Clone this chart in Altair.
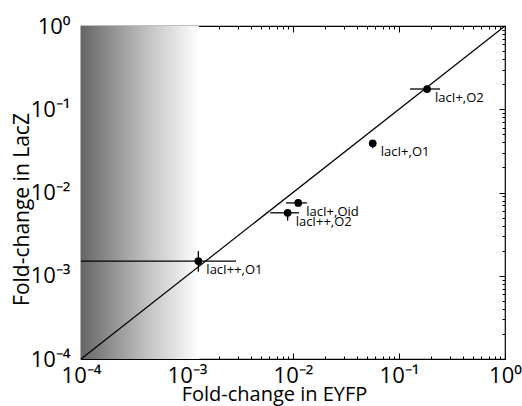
import math
import altair as alt
import pandas as pd

# ---- data ----
labels = ["lacI+,O2", "lacI+,O1", "lacI+,Oid", "lacI++,O2", "lacI++,O1"]
eyfp = [0.184, 0.0565, 0.0112, 0.0089, 0.00128]
eyfp_lo = [0.127, 0.0565, 0.0086, 0.0061, 0.0001]
eyfp_hi = [0.244, 0.0565, 0.0135, 0.0114, 0.0029]
lacz = [0.175, 0.039, 0.0075, 0.0057, 0.0015]
lacz_lo = [0.175, 0.034, 0.0075, 0.0046, 0.00112]
lacz_hi = [0.175, 0.042, 0.0075, 0.0063, 0.00198]

diag = [0.0001, 1.0]
shade_x = [0.0001, 0.0013]
shade_y = [0.0001, 1.0]

major_ticks = [1e-4, 1e-3, 1e-2, 1e-1, 1.0]
tick_text = ["10⁻⁴", "10⁻³", "10⁻²", "10⁻¹", "10⁰"]
minor_ticks = [m * 10.0 ** k for k in range(-4, 0) for m in range(2, 10)]

pts = pd.DataFrame({"label": labels, "x": eyfp, "xlo": eyfp_lo, "xhi": eyfp_hi,
                    "y": lacz, "ylo": lacz_lo, "yhi": lacz_hi})
diag_df = pd.DataFrame({"x": diag, "y": diag})
shade_df = pd.DataFrame({"x": [shade_x[0]], "x2": [shade_x[1]],
                         "y": [shade_y[0]], "y2": [shade_y[1]]})

FONT = "Open Sans"
xs = alt.Scale(type="log", domain=[1e-4, 1], nice=False)
ys = alt.Scale(type="log", domain=[1e-4, 1], nice=False)

label_expr = " : ".join(
    f"round(log(datum.value)/LN10) == {round(math.log10(v))} ? '{t}'"
    for v, t in zip(major_ticks, tick_text)) + " : ''"

main_x = alt.Axis(values=major_ticks, labelExpr=label_expr, ticks=False, domain=False,
                  grid=False, title="Fold-change in EYFP", orient="bottom",
                  labelFont=FONT, labelFontSize=22, labelColor="black",
                  labelBaseline="alphabetic", labelPadding=23, labelFlush=False,
                  titleFont=FONT, titleFontSize=20, titleFontWeight="normal",
                  titleColor="black", titleX=193, titleY=41, titleAlign="center",
                  titleBaseline="alphabetic")
main_y = alt.Axis(values=major_ticks, labelExpr=label_expr, ticks=False, domain=False,
                  grid=False, title="Fold-change in LacZ", orient="left",
                  labelFont=FONT, labelFontSize=22, labelColor="black", labelPadding=11,
                  labelFlush=False,
                  titleFont=FONT, titleFontSize=21, titleFontWeight="normal",
                  titleColor="black", titleY=183, titleX=-53, titleAngle=270,
                  titleAlign="center", titleBaseline="alphabetic")


def tick_axis(orient, vals, size):
    return alt.Axis(orient=orient, values=vals, labels=False, domain=False, grid=False,
                    title=None, tickSize=size, offset=-size, tickColor="black",
                    tickWidth=1)


grad = alt.Gradient(gradient="linear",
                    stops=[alt.GradientStop(color="#666666", offset=0),
                           alt.GradientStop(color="#c0c0c0", offset=0.55),
                           alt.GradientStop(color="#ffffff", offset=1)],
                    x1=0, x2=1, y1=0, y2=0)

shade = alt.Chart(shade_df).mark_rect(fill=grad).encode(
    x=alt.X("x:Q", scale=xs, axis=main_x),
    x2="x2:Q",
    y=alt.Y("y:Q", scale=ys, axis=main_y),
    y2="y2:Q",
)

line = alt.Chart(diag_df).mark_line(color="black", strokeWidth=1.2).encode(
    x=alt.X("x:Q", scale=xs, axis=tick_axis("bottom", major_ticks, 6)),
    y=alt.Y("y:Q", scale=ys, axis=tick_axis("left", major_ticks, 6)),
)

xerr = alt.Chart(pts).mark_rule(color="black", strokeWidth=1.3).encode(
    x=alt.X("xlo:Q", scale=xs, axis=tick_axis("top", major_ticks, 6)),
    x2="xhi:Q",
    y=alt.Y("y:Q", scale=ys, axis=tick_axis("right", major_ticks, 6)),
)

yerr = alt.Chart(pts).mark_rule(color="black", strokeWidth=1.3).encode(
    x=alt.X("x:Q", scale=xs, axis=tick_axis("bottom", minor_ticks, 3)),
    y=alt.Y("ylo:Q", scale=ys, axis=tick_axis("left", minor_ticks, 3)),
    y2="yhi:Q",
)

dots = alt.Chart(pts).mark_circle(color="black", opacity=1, size=60).encode(
    x=alt.X("x:Q", scale=xs, axis=tick_axis("top", minor_ticks, 3)),
    y=alt.Y("y:Q", scale=ys, axis=tick_axis("right", minor_ticks, 3)),
)

texts = alt.Chart(pts).mark_text(align="left", baseline="top", dx=8, dy=3,
                                 font=FONT, fontSize=13, color="black").encode(
    x=alt.X("x:Q", scale=xs, axis=None),
    y=alt.Y("y:Q", scale=ys, axis=None),
    text="label:N",
)

chart = alt.layer(shade, line, xerr, yerr, dots, texts).resolve_axis(
    x="independent", y="independent"
).properties(
    width=424, height=333,
    autosize=alt.AutoSizeParams(type="none"),
    padding={"left": 81, "top": 26, "right": 17, "bottom": 47},
    background="white",
).configure_view(stroke="black", strokeWidth=1.2)

chart.save("out.html", embed_options={"renderer": "svg", "actions": False})
